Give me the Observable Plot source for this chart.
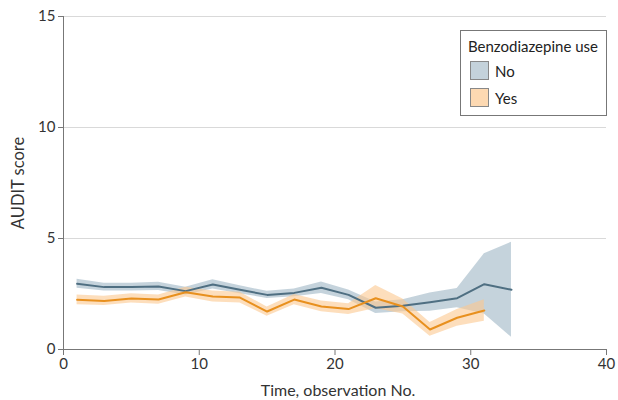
<!DOCTYPE html>
<html>
<head>
<meta charset="utf-8">
<script src="https://cdn.jsdelivr.net/npm/d3@7"></script>
<script src="https://cdn.jsdelivr.net/npm/@observablehq/plot@0.6"></script>
<style>
  html, body { margin: 0; padding: 0; background: #fff; }
  #wrap { position: relative; width: 618px; height: 400px; font-family: Lato, "Noto Sans", sans-serif; }
  #legend { position: absolute; left: 460px; top: 30px; width: 147px; height: 86px; border: 1px solid #777; background: #fff; box-sizing: border-box; font-size: 15px; color: #222; }
  #legend .title { position: absolute; left: 7px; top: 6px; }
  #legend .item { position: absolute; left: 9px; display: flex; align-items: center; }
  #legend .sw { width: 19px; height: 19px; border: 1px solid #888; margin-right: 6px; box-sizing: border-box; }
  #chart svg text { font-family: Lato, "Noto Sans", sans-serif; }
</style>
</head>
<body>
<div id="wrap">
  <div id="chart"></div>
  <div id="legend">
    <div class="title">Benzodiazepine use</div>
    <div class="item" style="top:30px"><div class="sw" style="background:#c4d2db"></div>No</div>
    <div class="item" style="top:57px"><div class="sw" style="background:#fdd9b2"></div>Yes</div>
  </div>
</div>
<script>
const timeNo = [1,3,5,7,9,11,13,15,17,19,21,23,25,27,29,31,33];
const meanNo = [2.96,2.81,2.81,2.84,2.63,2.93,2.69,2.46,2.55,2.78,2.46,1.88,1.97,2.13,2.31,2.94,2.69];
const lowNo  = [2.76,2.64,2.64,2.66,2.46,2.72,2.51,2.30,2.38,2.52,2.24,1.62,1.70,1.72,1.88,1.60,0.55];
const highNo = [3.16,2.98,2.98,3.03,2.80,3.14,2.87,2.62,2.72,3.04,2.68,2.14,2.24,2.55,2.75,4.31,4.83];

const timeYes = [1,3,5,7,9,11,13,15,17,19,21,23,25,27,29,31];
const meanYes = [2.24,2.19,2.30,2.25,2.58,2.39,2.34,1.71,2.25,1.94,1.82,2.31,1.94,0.90,1.43,1.76];
const lowYes  = [2.02,1.98,2.09,2.04,2.36,2.14,2.10,1.50,2.02,1.70,1.58,1.85,1.60,0.60,1.05,1.27];
const highYes = [2.46,2.40,2.51,2.46,2.80,2.64,2.58,1.92,2.48,2.18,2.06,2.88,2.28,1.22,1.80,2.24];

const noData = timeNo.map((t,i)=>({t, m: meanNo[i], lo: lowNo[i], hi: highNo[i]}));
const yesData = timeYes.map((t,i)=>({t, m: meanYes[i], lo: lowYes[i], hi: highYes[i]}));

const xTicks = [0,10,20,30,40];
const yTicks = [0,5,10,15];
const xLabel = "Time, observation No.";
const yLabel = "AUDIT score";

const chart = Plot.plot({
  width: 618,
  height: 400,
  marginLeft: 63,
  marginRight: 12,
  marginTop: 16,
  marginBottom: 51,
  style: { fontFamily: 'Lato, "Noto Sans", sans-serif', fontSize: "15px", color: "#333", background: "#fff" },
  x: { domain: [0, 40] },
  y: { domain: [0, 15] },
  marks: [
    Plot.ruleY(yTicks.filter(d => d > 0), { stroke: "#d9d9d9", strokeWidth: 1 }),
    Plot.areaY(noData, { x: "t", y1: "lo", y2: "hi", fill: "#c2d1da", fillOpacity: 0.95 }),
    Plot.areaY(yesData, { x: "t", y1: "lo", y2: "hi", fill: "#fbc890", fillOpacity: 0.6 }),
    Plot.line(noData, { x: "t", y: "m", stroke: "#4f6f82", strokeWidth: 2 }),
    Plot.line(yesData, { x: "t", y: "m", stroke: "#e8901e", strokeWidth: 2 }),
    Plot.ruleX([0], { y1: 0, y2: 15, stroke: "#777" }),
    Plot.ruleY([0], { stroke: "#777" }),
    Plot.axisX({ ticks: xTicks, tickSize: 6, tickPadding: 3, stroke: "#777", fontSize: 15, label: null }),
    Plot.axisY({ ticks: yTicks, tickSize: 5, tickPadding: 3, stroke: "#777", fontSize: 15, label: null }),
    Plot.text([xLabel], { text: d => d, frameAnchor: "bottom", textAnchor: "middle", lineAnchor: "middle", dy: 41, dx: 3, fontSize: 16, fill: "#333" }),
    Plot.text([yLabel], { text: d => d, frameAnchor: "left", textAnchor: "middle", lineAnchor: "middle", rotate: -90, dx: -45, dy: 0, fontSize: 16.5, fill: "#333" })
  ]
});
document.getElementById("chart").appendChild(chart);
</script>
</body>
</html>
